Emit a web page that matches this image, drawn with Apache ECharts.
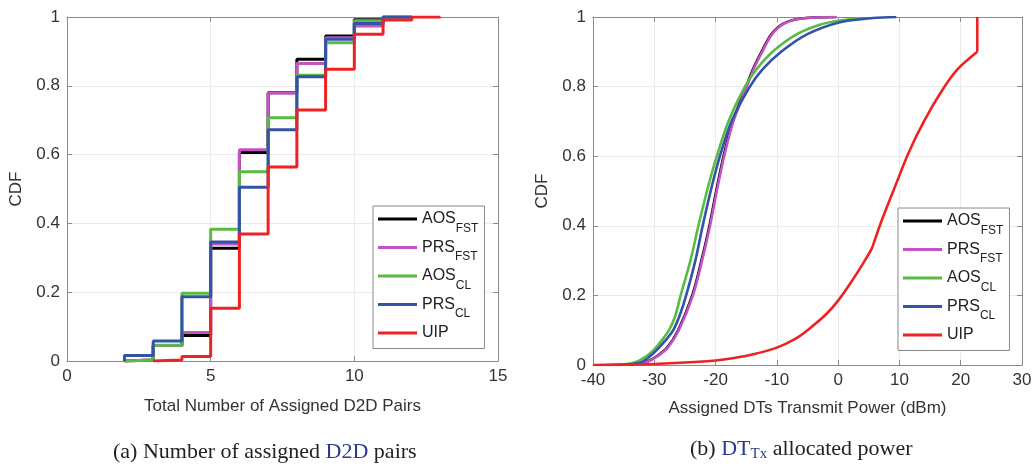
<!DOCTYPE html>
<html><head><meta charset="utf-8">
<script src="https://cdn.jsdelivr.net/npm/echarts@6/dist/echarts.min.js"></script>
<style>html,body{margin:0;padding:0;background:#fff}#c{width:1036px;height:466px}</style>
</head><body><div id="c"></div>
<script>
// ---------- data ----------
const seriesNames = ['AOS_FST', 'PRS_FST', 'AOS_CL', 'PRS_CL', 'UIP'];
const colors = ['#000000', '#c452c4', '#58bb44', '#3352a8', '#ee2222'];

// (a) step CDFs: value holds from x_i to x_{i+1}
const stepX = [2, 3, 4, 5, 6, 7, 8, 9, 10, 11, 12];
const uipStepX = [3, 4, 5, 6, 7, 8, 9, 10, 11, 12, 13];
const aosFstSteps = [0.003, 0.045, 0.074, 0.328, 0.606, 0.78, 0.877, 0.945, 0.992, 1];
const prsFstSteps = [0.003, 0.045, 0.083, 0.34, 0.614, 0.779, 0.865, 0.94, 0.974, 1];
const aosClSteps = [0.003, 0.046, 0.197, 0.383, 0.55, 0.707, 0.831, 0.925, 0.989, 1];
const prsClSteps = [0.016, 0.058, 0.187, 0.346, 0.505, 0.672, 0.826, 0.935, 0.981, 1];
const uipSteps = [0.003, 0.013, 0.153, 0.369, 0.564, 0.73, 0.848, 0.95, 0.991, 1];

// (b) power CDF curves [dBm, CDF]
const aosFstPower = [[-36.1,0],[-33.1,0.003],[-31.1,0.01],[-29.6,0.025],[-27.9,0.05],[-26.1,0.1],[-23.8,0.2],[-22.3,0.3],[-21,0.4],[-19.9,0.5],[-18.7,0.6],[-17.2,0.7],[-15,0.8],[-13.9,0.85],[-12.5,0.9],[-10.9,0.95],[-9,0.98],[-6.3,0.995],[-0.4,1]];
const prsFstPower = [[-36,0],[-33,0.003],[-31,0.01],[-29.5,0.025],[-27.8,0.05],[-26,0.1],[-23.7,0.2],[-22.2,0.3],[-20.9,0.4],[-19.8,0.5],[-18.6,0.6],[-17.1,0.7],[-14.9,0.8],[-13.8,0.85],[-12.4,0.9],[-10.8,0.95],[-8.9,0.98],[-6.2,0.995],[-0.2,1]];
const aosClPower = [[-38,0],[-35,0.002],[-33,0.009],[-31.3,0.025],[-30,0.045],[-28.8,0.07],[-27.6,0.1],[-26.6,0.14],[-25.7,0.2],[-24.1,0.3],[-22.8,0.4],[-21.4,0.5],[-19.8,0.6],[-17.9,0.7],[-15.2,0.8],[-13.3,0.85],[-10.7,0.9],[-6.8,0.95],[-3,0.978],[0.3,0.99],[4,0.997]];
const prsClPower = [[-37,0],[-34,0.002],[-32,0.009],[-30.7,0.025],[-29.5,0.045],[-28.2,0.07],[-26.9,0.1],[-25.8,0.145],[-24.8,0.2],[-23.3,0.3],[-22.1,0.4],[-20.8,0.5],[-19.3,0.6],[-17.4,0.7],[-14.4,0.8],[-12.3,0.85],[-9.3,0.9],[-5.1,0.95],[0.3,0.985],[5.7,0.997],[9.5,1]];
const uipPower = [[-40,0],[-35,0.001],[-30,0.003],[-25,0.007],[-20,0.013],[-17,0.02],[-14,0.03],[-10,0.05],[-7,0.075],[-5,0.1],[-2,0.145],[0,0.185],[2,0.235],[4,0.29],[5.5,0.335],[6,0.36],[7,0.41],[9,0.5],[11.5,0.61],[14,0.7],[17,0.79],[19.5,0.85],[22.7,0.9]];
const uipPowerCap = [[22.7,0.9],[22.7,1]];

const xTicksA = {min: 0, max: 15, interval: 5};
const xTicksB = {min: -40, max: 30, interval: 10};
const yTicks = {min: 0, max: 1, interval: 0.2};

// ---------- build ----------
const FONT = '"Liberation Sans", Arial, Helvetica, sans-serif';
const AX = '#8a8a8a';
function stepData(xs, vals) {
  const d = [[xs[0], 0]];
  vals.forEach((v, i) => d.push([xs[i], v]));
  d.push([xs[xs.length - 1], vals[vals.length - 1]]);
  return d;
}
function mainAxis(grid, pos, name, ticks, gap) {
  return {
    type: 'value', gridIndex: grid, position: pos, min: ticks.min, max: ticks.max, interval: ticks.interval,
    name: name, nameLocation: 'middle', nameGap: gap,
    nameTextStyle: {fontFamily: FONT, fontSize: 17, color: '#333'},
    axisLine: {show: true, onZero: false, lineStyle: {color: AX, width: 1}},
    axisTick: {show: true, inside: true, length: 5, lineStyle: {color: AX}},
    axisLabel: {show: true, fontFamily: FONT, fontSize: 17, color: '#333', margin: 7},
    splitLine: {show: true, lineStyle: {color: '#ebebeb', width: 1}}
  };
}
function mirrorAxis(grid, pos, ticks) {
  return {
    type: 'value', gridIndex: grid, position: pos, min: ticks.min, max: ticks.max, interval: ticks.interval,
    axisLine: {show: true, onZero: false, lineStyle: {color: AX, width: 1}},
    axisTick: {show: true, inside: true, length: 5, lineStyle: {color: AX}},
    axisLabel: {show: false}, splitLine: {show: false}
  };
}
const legendRich = {
  m: {fontFamily: FONT, fontSize: 16, color: '#222'},
  s: {fontFamily: FONT, fontSize: 12, color: '#222', padding: [19, 0, 0, 0]}
};
function legendFmt(name) {
  const p = name.split('_');
  return '{m|' + p[0] + '}{s|' + (p[1] || ' ') + '}';
}
function legend(left, top) {
  return {
    data: seriesNames, orient: 'vertical', left: left, top: top,
    icon: 'rect', itemWidth: 39, itemHeight: 3, itemGap: 5, itemTextGap: 4,
    padding: [5, 6, 0, 5], borderColor: '#888', borderWidth: 1, backgroundColor: '#fff',
    selectedMode: false, formatter: legendFmt,
    textStyle: {fontFamily: FONT, fontSize: 16, color: '#222', rich: legendRich}
  };
}

const stepSets = [
  [stepX, aosFstSteps], [stepX, prsFstSteps], [stepX, aosClSteps], [stepX, prsClSteps], [uipStepX, uipSteps]
];
const powerSets = [aosFstPower, prsFstPower, aosClPower, prsClPower, uipPower];

const series = [];
stepSets.forEach((s, i) => series.push({
  name: seriesNames[i], type: 'line', xAxisIndex: 0, yAxisIndex: 0, step: 'end',
  data: stepData(s[0], s[1]), showSymbol: false, symbol: 'none', color: colors[i],
  lineStyle: {color: colors[i], width: 3}, z: 2 + i, animation: false
}));
powerSets.forEach((d, i) => series.push({
  name: seriesNames[i], type: 'line', xAxisIndex: 1, yAxisIndex: 1, smooth: 0.3,
  data: d, showSymbol: false, symbol: 'none', color: colors[i],
  lineStyle: {color: colors[i], width: 2.6}, z: 2 + i, animation: false
}));
series.push({
  name: 'UIP', type: 'line', xAxisIndex: 1, yAxisIndex: 1, data: uipPowerCap,
  showSymbol: false, symbol: 'none', color: colors[4],
  lineStyle: {color: colors[4], width: 2.6}, z: 7, animation: false
});

const SERIF = '"Liberation Serif", "Times New Roman", serif';
const capRich = {
  n: {fontFamily: SERIF, fontSize: 22, fontWeight: 'normal', color: '#222'},
  b: {fontFamily: SERIF, fontSize: 22, fontWeight: 'normal', color: '#2b3a8f'},
  bs: {fontFamily: SERIF, fontSize: 15, fontWeight: 'normal', color: '#2b3a8f', padding: [11, 0, 0, 0]}
};

const option = {
  backgroundColor: '#fff',
  animation: false,
  title: [
    {text: '{n|(a) Number of assigned }{b|D2D}{n| pairs}', left: 113, top: 441, padding: 0,
     textStyle: {fontWeight: 'normal', rich: capRich}},
    {text: '{n|(b) }{b|DT}{bs|Tx}{n| allocated power}', left: 690, top: 436, padding: 0,
     textStyle: {fontWeight: 'normal', rich: capRich}}
  ],
  grid: [
    {left: 67, top: 17, width: 431, height: 344, containLabel: false},
    {left: 593, top: 17, width: 429, height: 348, containLabel: false}
  ],
  xAxis: [
    mainAxis(0, 'bottom', 'Total Number of Assigned D2D Pairs', xTicksA, 37),
    mainAxis(1, 'bottom', 'Assigned DTs Transmit Power (dBm)', xTicksB, 35),
    mirrorAxis(0, 'top', xTicksA),
    mirrorAxis(1, 'top', xTicksB)
  ],
  yAxis: [
    mainAxis(0, 'left', 'CDF', yTicks, 42),
    mainAxis(1, 'left', 'CDF', yTicks, 42),
    mirrorAxis(0, 'right', yTicks),
    mirrorAxis(1, 'right', yTicks)
  ],
  legend: [legend(373, 206), legend(898, 208)],
  series: series
};
const chart = echarts.init(document.getElementById('c'), null, {renderer: 'canvas'});
chart.setOption(option);
</script></body></html>
